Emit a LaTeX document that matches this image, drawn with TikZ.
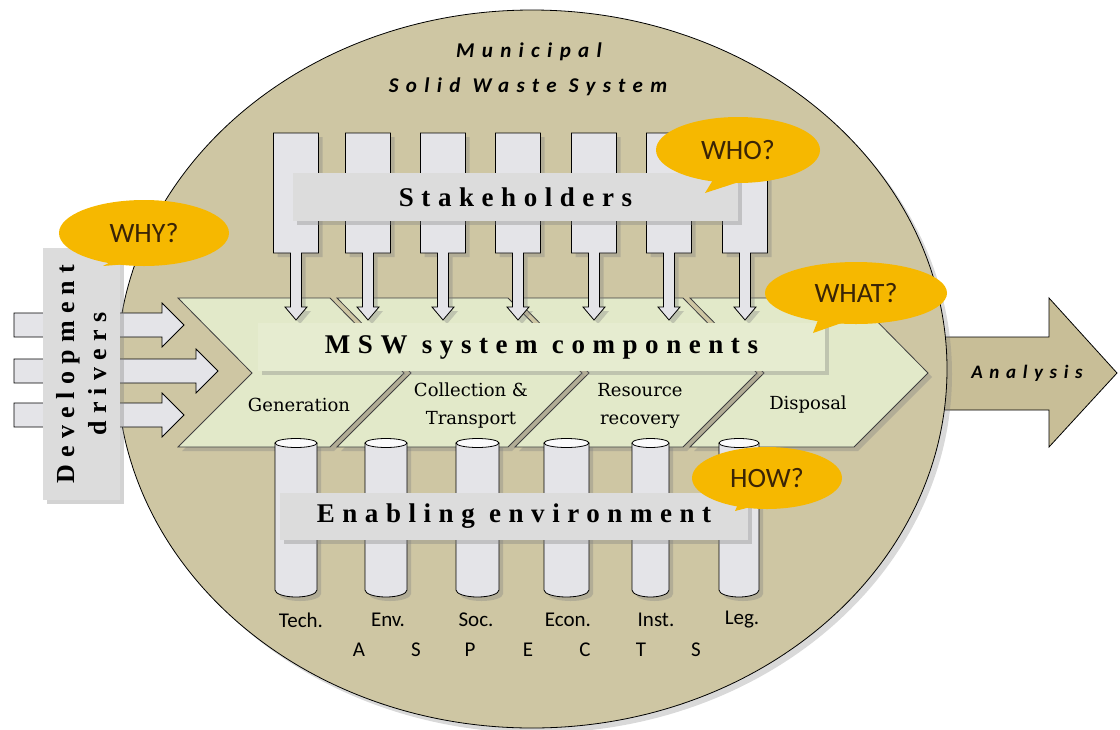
\documentclass[tikz,border=0pt]{standalone}
\usepackage{fontspec}
\usepackage{xcolor}
\usetikzlibrary{shadows,shapes.geometric}
\setmainfont{Liberation Serif}
\newfontfamily\headfont[LetterSpace=28]{Liberation Serif}
\newfontfamily\segfont{DejaVu Serif}
\newfontfamily\titlefont[LetterSpace=35]{Carlito}
\newfontfamily\calfont{Carlito}
\definecolor{disctan}{HTML}{CEC6A3}
\definecolor{arrowtan}{HTML}{C8BE97}
\definecolor{boxgrey}{HTML}{DCDCDC}
\definecolor{colgrey}{HTML}{E4E4E8}
\definecolor{chevgreen}{HTML}{E2E9C9}
\definecolor{bargreen}{HTML}{E6ECD0}
\definecolor{bubblegold}{HTML}{F6B800}
\definecolor{bubbletext}{HTML}{3A2406}

\begin{document}
\begin{tikzpicture}[x=1pt,y=-1pt,
    softshadow/.style={drop shadow={shadow xshift=4pt,shadow yshift=-4pt,opacity=0.35}},
    greybox/.style={fill=boxgrey,softshadow,inner sep=0pt},
    chev/.style={fill=chevgreen,draw=black!75,line width=0.8pt,softshadow},
    bubble/.style={ellipse,fill=bubblegold,inner sep=0pt,text=bubbletext,font=\calfont\fontsize{28}{30}\selectfont},
    headtext/.style={font=\headfont\bfseries\fontsize{27}{30}\selectfont},
    segtext/.style={font=\segfont\fontsize{18}{28}\selectfont,align=center,inner sep=0pt},
    aspect/.style={font=\calfont\fontsize{21}{24}\selectfont,inner sep=0pt}]
  \useasboundingbox (0,0) rectangle (1120,729);

  % Analysis arrow
  \draw[fill=arrowtan,line width=0.8pt] (900,337) -- (1049,337) -- (1049,298) -- (1117,373)
    -- (1049,447) -- (1049,410) -- (900,410) -- cycle;
  \node[font=\titlefont\bfseries\itshape\fontsize{19}{22}\selectfont] (analysis) at (1027,373) {Analysis};

  % Municipal solid waste system
  \draw[fill=disctan,line width=0.8pt,drop shadow={shadow xshift=5pt,shadow yshift=-5pt,opacity=0.3}]
    (532,369) ellipse[x radius=415,y radius=359];
  \node[font=\titlefont\bfseries\itshape\fontsize{21}{24}\selectfont] (title1) at (529,52) {Municipal};
  \node[font=\titlefont\bfseries\itshape\fontsize{21}{24}\selectfont] (title2) at (528,87) {Solid Waste System};

  % Development drivers
  \foreach \ay/\tip in {325/184, 371/218, 415/184}
    \draw[fill=colgrey,line width=0.8pt] (14,\ay-12) -- (\tip-22,\ay-12) -- (\tip-22,\ay-22) -- (\tip,\ay)
      -- (\tip-22,\ay+22) -- (\tip-22,\ay+12) -- (14,\ay+12) -- cycle;
  \node[greybox,rotate=90,minimum width=252pt,minimum height=77pt,
    font=\headfont\bfseries\fontsize{26}{32}\selectfont,align=center] (drivers) at (81.5,374)
    {Development\\drivers};

  % MSW system components
  \draw[chev] (178,298) -- (330,298) -- (404,373) -- (330,447) -- (178,447) -- (252,373) -- cycle;
  \draw[chev] (337,298) -- (508,298) -- (582,373) -- (508,447) -- (337,447) -- (411,373) -- cycle;
  \draw[chev] (515,298) -- (683,298) -- (757,373) -- (683,447) -- (515,447) -- (589,373) -- cycle;
  \draw[chev] (690,298) -- (854,298) -- (928,373) -- (854,447) -- (690,447) -- (764,373) -- cycle;
  \node[segtext] (gen) at (299,405) {Generation};
  \node[segtext] (coll) at (471,406) {Collection \&\\Transport};
  \node[segtext] (rec) at (640,406) {Resource\\recovery};
  \node[segtext] (disp) at (808,405) {Disposal};

  % Stakeholders
  \foreach \cx in {296,368,443,518,594,669,745}
    \draw[fill=colgrey,line width=0.8pt,softshadow] (\cx-22.5,133) -- (\cx+22.5,133) -- (\cx+22.5,253)
      -- (\cx+5.5,253) -- (\cx+5.5,307) -- (\cx+11,307) -- (\cx,320) -- (\cx-11,307)
      -- (\cx-5.5,307) -- (\cx-5.5,253) -- (\cx-22.5,253) -- cycle;
  \node[greybox,minimum width=445pt,minimum height=48pt,headtext] (stake) at (515.5,197) {Stakeholders};

  \node[fill=bargreen,softshadow,inner sep=0pt,minimum width=567pt,minimum height=48pt,headtext]
    (msw) at (541.5,347) {MSW system components};

  % Enabling environment
  \foreach \cx/\w in {296/21, 386/21, 477.5/21.5, 566.5/22.5, 650.5/18.5, 739/20} {
    \fill[colgrey,softshadow] (\cx-\w,443) -- (\cx-\w,590) arc[start angle=180,end angle=0,x radius=\w,y radius=7]
      -- (\cx+\w,443) -- cycle;
    \draw[line width=0.8pt] (\cx-\w,443) -- (\cx-\w,590) arc[start angle=180,end angle=0,x radius=\w,y radius=7]
      -- (\cx+\w,443);
    \draw[fill=white!85!colgrey,line width=0.8pt] (\cx,443) ellipse[x radius=\w,y radius=4.5];
  }
  \node[greybox,minimum width=468pt,minimum height=47pt,headtext] (enab) at (514,516.5) {Enabling environment};

  \node[aspect] (tech) at (301,620) {Tech.};
  \node[aspect] (env) at (388,620) {Env.};
  \node[aspect] (soc) at (476,620) {Soc.};
  \node[aspect] (econ) at (568,620) {Econ.};
  \node[aspect] (inst) at (656,620) {Inst.};
  \node[aspect] (leg) at (742,620) {Leg.};
  \foreach \lx/\ch [count=\i] in {359/A, 416/S, 470/P, 528/E, 585/C, 641/T, 696/S}
    \node[aspect] (asp\i) at (\lx,650) {\ch};

  % Questions
  \fill[bubblegold] (103,266) -- (122,256) -- (152,262) -- cycle;
  \node[bubble,minimum width=170pt,minimum height=66pt] (why) at (144,233) {WHY?};
  \fill[bubblegold] (705,193) -- (716,175) -- (745,180) -- cycle;
  \node[bubble,minimum width=164pt,minimum height=66pt] (who) at (738,150) {WHO?};
  \fill[bubblegold] (813,333) -- (820,315) -- (850,320) -- cycle;
  \node[bubble,minimum width=182pt,minimum height=62pt] (what) at (856,293) {WHAT?};
  \fill[bubblegold] (735,511) -- (742,495) -- (770,502) -- cycle;
  \node[bubble,minimum width=150pt,minimum height=62pt] (how) at (767,478) {HOW?};
\end{tikzpicture}
\end{document}
